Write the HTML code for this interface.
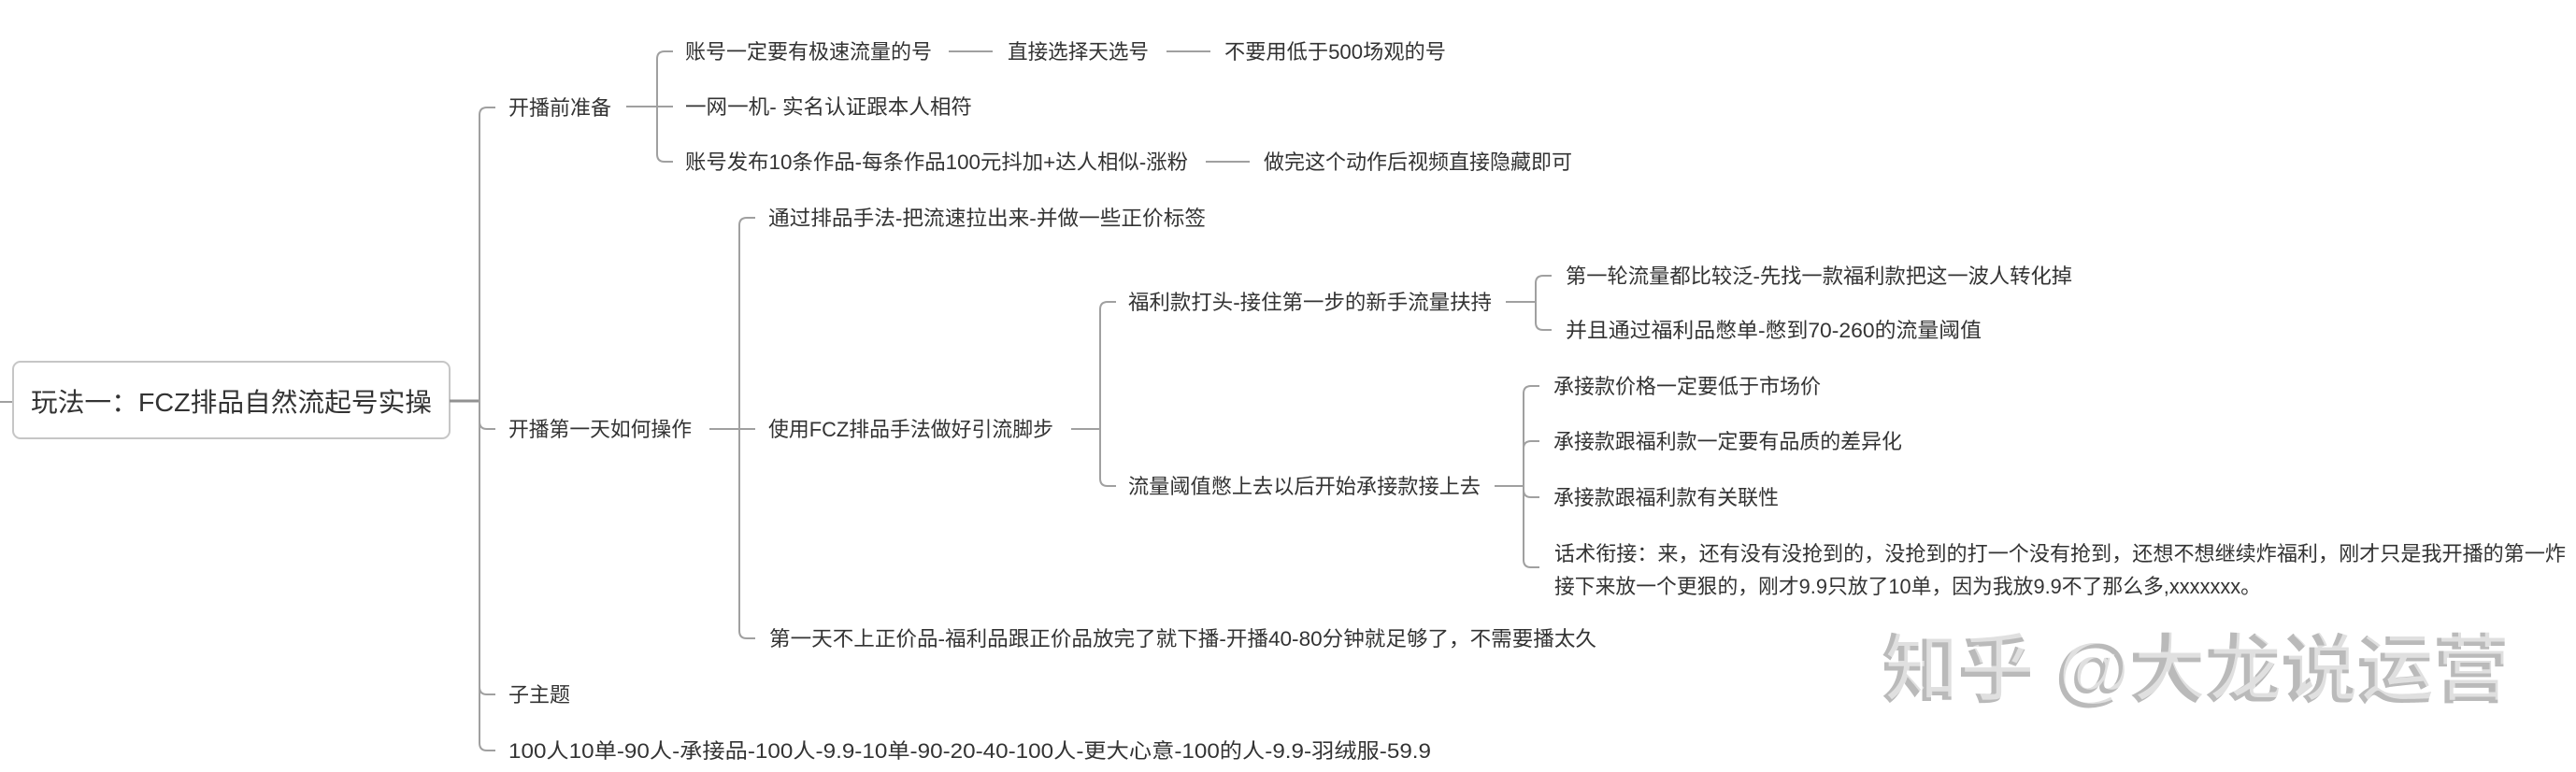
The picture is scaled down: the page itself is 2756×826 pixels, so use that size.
<!DOCTYPE html>
<html>
<head>
<meta charset="utf-8">
<style>
  html, body { margin:0; padding:0; background:#fff; }
  body { width:2756px; height:826px; overflow:hidden; }
  svg { display:block; }
  .t { font-family:"Liberation Sans","Noto Sans CJK SC",sans-serif; font-size:22px; fill:#333; }
  .r { font-family:"Liberation Sans","Noto Sans CJK SC",sans-serif; font-size:28px; fill:#333; }
  .w { font-family:"Liberation Sans","Noto Sans CJK SC",sans-serif; font-size:80px; font-weight:700; fill:#bababa; }
  .w2 { font-family:"Liberation Sans","Noto Sans CJK SC",sans-serif; font-size:80px; font-weight:400; fill:#ffffff; opacity:0.55; }
  .l { fill:none; stroke:#a0a0a0; stroke-width:2; }
</style>
</head>
<body>
<svg width="2756" height="826" viewBox="0 0 2756 826" xmlns="http://www.w3.org/2000/svg">
  <rect x="0" y="0" width="2756" height="826" fill="#fff"/>

  <!-- watermark -->
  <text class="w" x="2013" y="745" textLength="671" lengthAdjust="spacingAndGlyphs">知乎 @大龙说运营</text>
  <text class="w2" x="2017" y="742" textLength="671" lengthAdjust="spacingAndGlyphs">知乎 @大龙说运营</text>

  <!-- root -->
  <path class="l" d="M0,430 H14"/>
  <rect x="14" y="387" width="467" height="82" rx="8" ry="8" fill="#fff" stroke="#c6c6c6" stroke-width="2"/>
  <text class="r" x="33" y="440" textLength="429" lengthAdjust="spacingAndGlyphs">玩法一：FCZ排品自然流起号实操</text>
  <path d="M481,429 H513" fill="none" stroke="#919191" stroke-width="3"/>

  <!-- level 1 -->
  <path class="l" d="M530,115 H521 Q513,115 513,123 V795 Q513,803 521,803 H530"/>
  <path class="l" d="M513,451 Q513,459 521,459 H530"/>
  <path class="l" d="M513,735 Q513,743 521,743 H530"/>

  <text class="t" x="544" y="123" textLength="110" lengthAdjust="spacingAndGlyphs">开播前准备</text>
  <text class="t" x="544" y="467" textLength="196" lengthAdjust="spacingAndGlyphs">开播第一天如何操作</text>
  <text class="t" x="544" y="751" textLength="66" lengthAdjust="spacingAndGlyphs">子主题</text>
  <text class="t" x="544" y="811" textLength="987" lengthAdjust="spacingAndGlyphs">100人10单-90人-承接品-100人-9.9-10单-90-20-40-100人-更大心意-100的人-9.9-羽绒服-59.9</text>

  <!-- 开播前准备 children -->
  <path class="l" d="M670,114 H703"/>
  <path class="l" d="M720,55 H711 Q703,55 703,63 V165 Q703,173 711,173 H720"/>
  <path class="l" d="M703,114 H720"/>
  <text class="t" x="733" y="63" textLength="264" lengthAdjust="spacingAndGlyphs">账号一定要有极速流量的号</text>
  <path class="l" d="M1015,55 H1062"/>
  <text class="t" x="1078" y="63" textLength="151" lengthAdjust="spacingAndGlyphs">直接选择天选号</text>
  <path class="l" d="M1248,55 H1295"/>
  <text class="t" x="1310" y="63" textLength="237" lengthAdjust="spacingAndGlyphs">不要用低于500场观的号</text>
  <text class="t" x="733" y="122" textLength="307" lengthAdjust="spacingAndGlyphs">一网一机- 实名认证跟本人相符</text>
  <text class="t" x="733" y="181" textLength="538" lengthAdjust="spacingAndGlyphs">账号发布10条作品-每条作品100元抖加+达人相似-涨粉</text>
  <path class="l" d="M1290,173 H1337"/>
  <text class="t" x="1352" y="181" textLength="330" lengthAdjust="spacingAndGlyphs">做完这个动作后视频直接隐藏即可</text>

  <!-- 开播第一天如何操作 children -->
  <path class="l" d="M759,459 H791"/>
  <path class="l" d="M808,233 H799 Q791,233 791,241 V675 Q791,683 799,683 H808"/>
  <path class="l" d="M791,459 H808"/>
  <text class="t" x="822" y="241" textLength="468" lengthAdjust="spacingAndGlyphs">通过排品手法-把流速拉出来-并做一些正价标签</text>
  <text class="t" x="822" y="467" textLength="305" lengthAdjust="spacingAndGlyphs">使用FCZ排品手法做好引流脚步</text>
  <text class="t" x="823" y="691" textLength="885" lengthAdjust="spacingAndGlyphs">第一天不上正价品-福利品跟正价品放完了就下播-开播40-80分钟就足够了，不需要播太久</text>

  <!-- 使用FCZ children -->
  <path class="l" d="M1146,459 H1177"/>
  <path class="l" d="M1194,323 H1185 Q1177,323 1177,331 V512 Q1177,520 1185,520 H1194"/>
  <text class="t" x="1207" y="331" textLength="389" lengthAdjust="spacingAndGlyphs">福利款打头-接住第一步的新手流量扶持</text>
  <text class="t" x="1207" y="528" textLength="377" lengthAdjust="spacingAndGlyphs">流量阈值憋上去以后开始承接款接上去</text>

  <!-- 福利款打头 children -->
  <path class="l" d="M1611,323 H1643"/>
  <path class="l" d="M1660,295 H1651 Q1643,295 1643,303 V345 Q1643,353 1651,353 H1660"/>
  <text class="t" x="1675" y="303" textLength="542" lengthAdjust="spacingAndGlyphs">第一轮流量都比较泛-先找一款福利款把这一波人转化掉</text>
  <text class="t" x="1675" y="361" textLength="445" lengthAdjust="spacingAndGlyphs">并且通过福利品憋单-憋到70-260的流量阈值</text>

  <!-- 流量阈值 children -->
  <path class="l" d="M1599,520 H1630"/>
  <path class="l" d="M1647,413 H1638 Q1630,413 1630,421 V599 Q1630,607 1638,607 H1647"/>
  <path class="l" d="M1630,480 Q1630,472 1638,472 H1647"/>
  <path class="l" d="M1630,524 Q1630,532 1638,532 H1647"/>
  <text class="t" x="1662" y="421" textLength="286" lengthAdjust="spacingAndGlyphs">承接款价格一定要低于市场价</text>
  <text class="t" x="1662" y="480" textLength="373" lengthAdjust="spacingAndGlyphs">承接款跟福利款一定要有品质的差异化</text>
  <text class="t" x="1662" y="540" textLength="241" lengthAdjust="spacingAndGlyphs">承接款跟福利款有关联性</text>
  <text class="t" x="1663" y="600" textLength="1082" lengthAdjust="spacingAndGlyphs">话术衔接：来，还有没有没抢到的，没抢到的打一个没有抢到，还想不想继续炸福利，刚才只是我开播的第一炸</text>
  <text class="t" x="1663" y="635" textLength="756" lengthAdjust="spacingAndGlyphs">接下来放一个更狠的，刚才9.9只放了10单，因为我放9.9不了那么多,xxxxxxx。</text>
</svg>
</body>
</html>
